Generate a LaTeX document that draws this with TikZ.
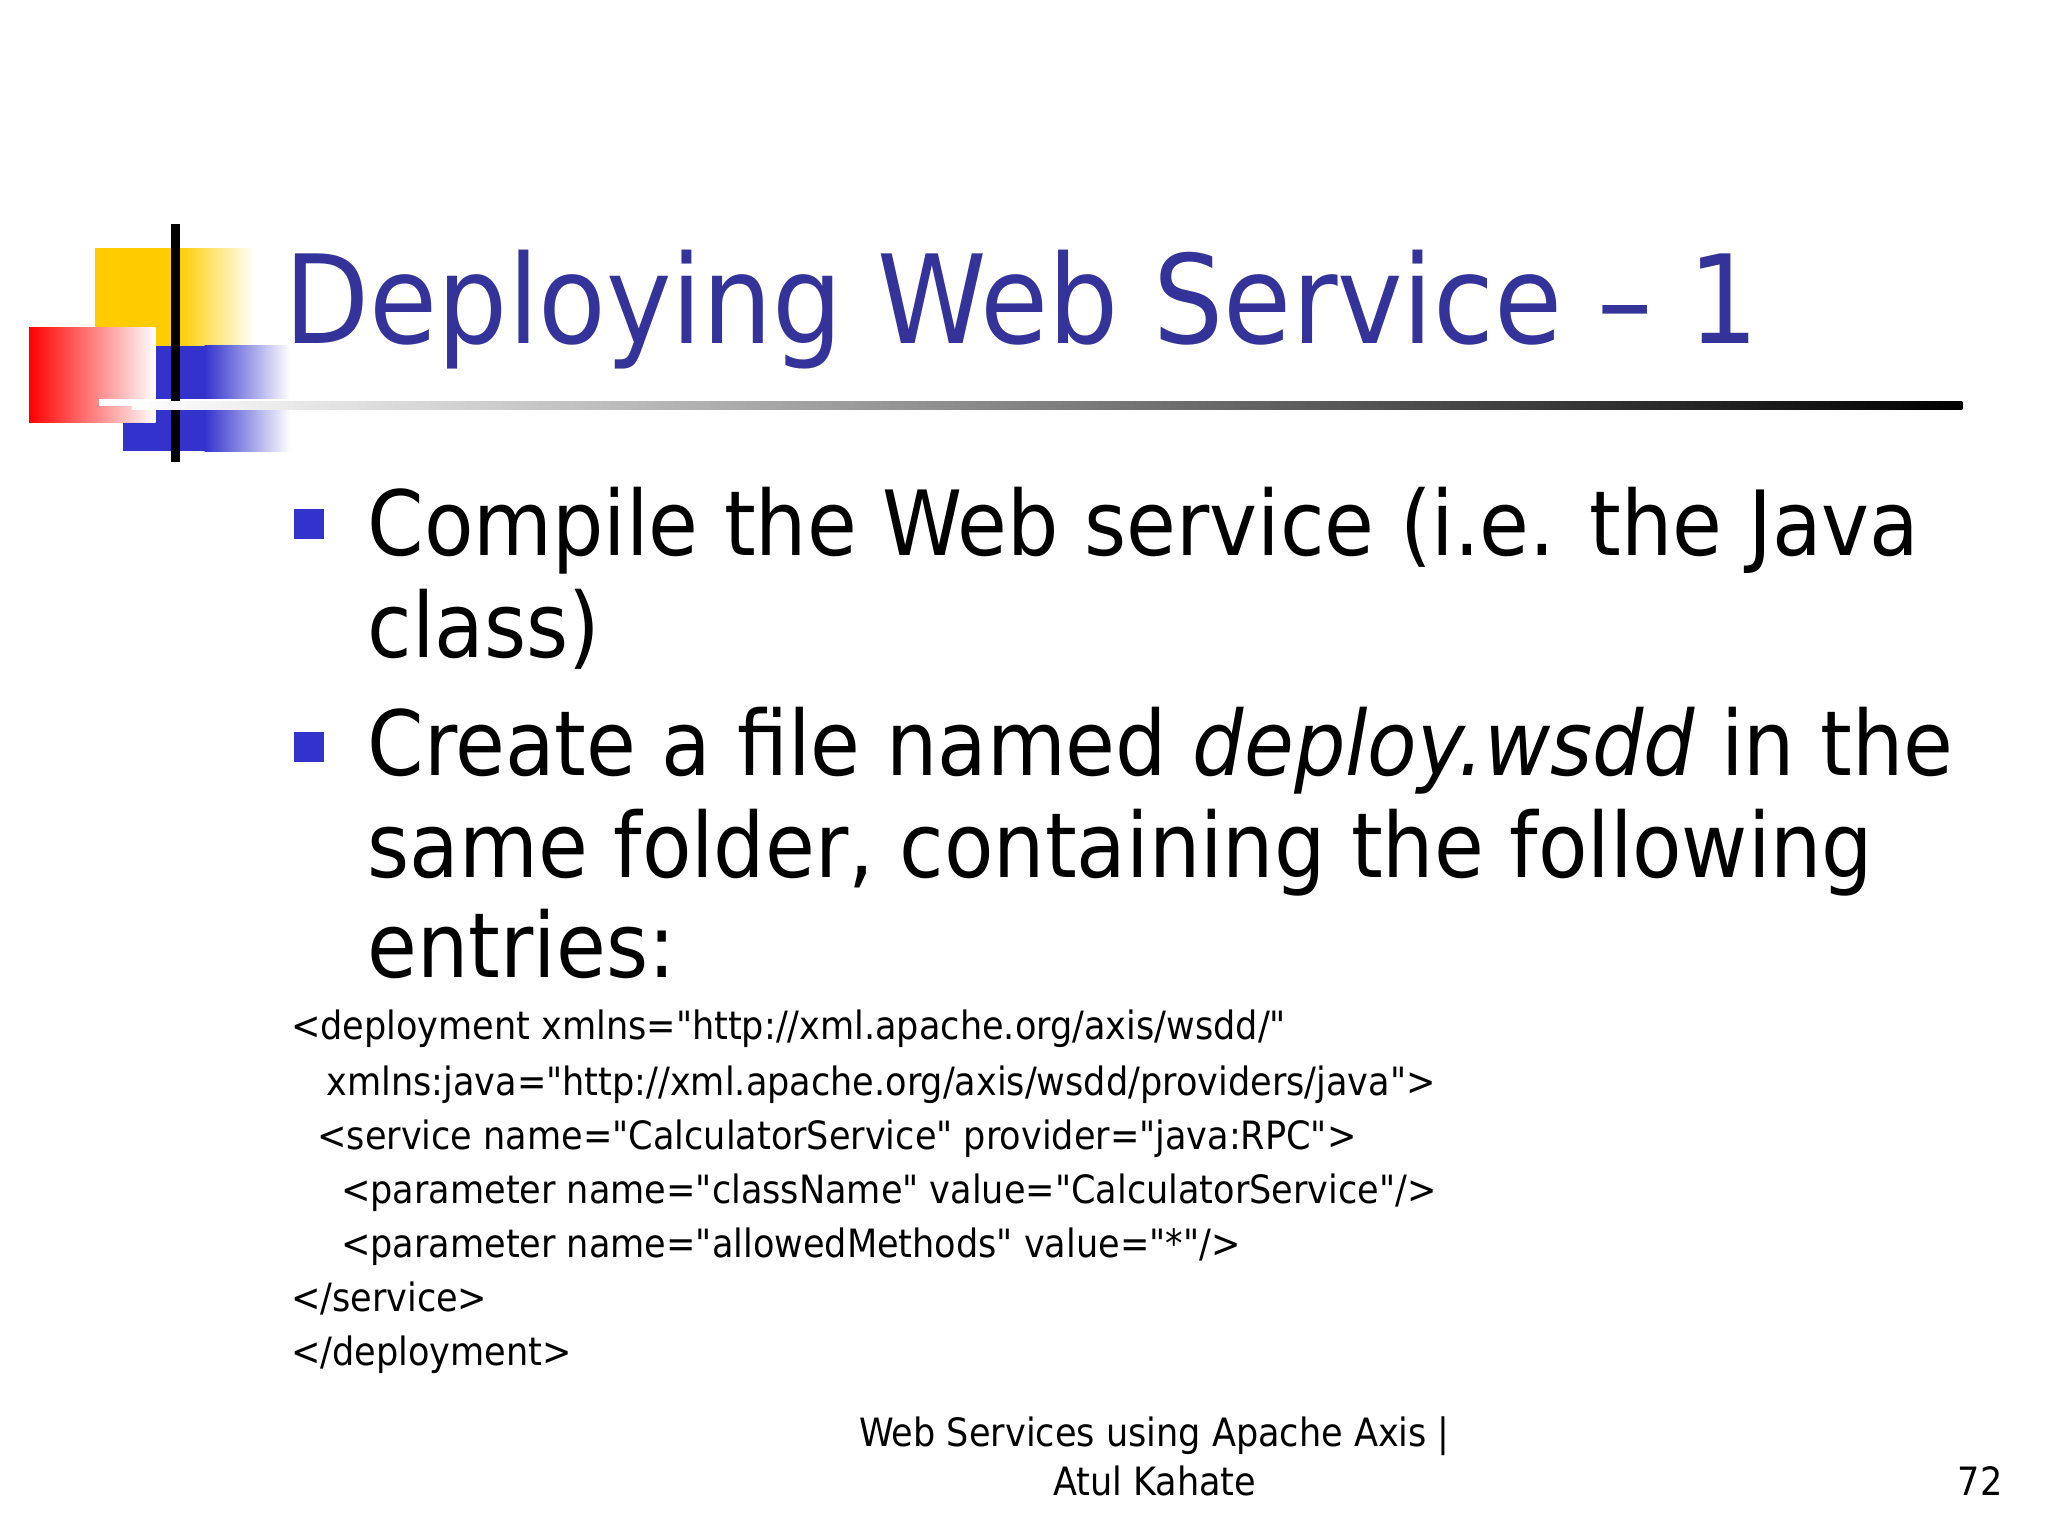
\documentclass[tikz,border=0pt]{standalone}
\usepackage{fontspec}
\setmainfont{DejaVu Sans Condensed}[Ligatures=TeXOff]
\usetikzlibrary{positioning}
\definecolor{titleBlue}{RGB}{51,51,153}
\definecolor{bulletBlue}{RGB}{51,51,204}
\definecolor{logoYellow}{RGB}{255,204,0}
\definecolor{logoRed}{RGB}{255,0,0}
\begin{document}
\begin{tikzpicture}[x=0.0132cm, y=-0.0132cm,
    title/.style={anchor=base west, inner sep=0pt, text=titleBlue, font=\fontsize{35}{40}\selectfont},
    bullettext/.style={anchor=base west, inner sep=0pt, font=\fontsize{25.6}{30}\selectfont},
    code/.style={anchor=base west, inner sep=0pt, font=\fontsize{11.1}{13}\selectfont},
    footer/.style={inner sep=0pt, font=\fontsize{11.1}{13}\selectfont, align=center},
    bulletsq/.style={fill=bulletBlue, minimum size=0.3cm, inner sep=0pt}
]
\useasboundingbox (0,0) rectangle (1552,1164);
% Logo
\fill[logoYellow] (72,188) rectangle (135,262);
\shade[left color=logoYellow, right color=white] (135,188) rectangle (193,262);
\fill[bulletBlue] (93,262) rectangle (155,342);
\shade[left color=bulletBlue, right color=white] (155,262) rectangle (220,342);
\shade[left color=logoRed, right color=white] (22,248) rectangle (118,320);
\draw[white, line width=2pt] (75,305) -- (220,305);
\draw[black, line width=2.5pt] (133,170) -- (133,350);
% Rule
\shade[left color=white, right color=black] (100,304) rectangle (1487,310);
% Title
\node[title] (ttl) at (215,260) {Deploying Web Service – 1};
% Bullets
\node[bulletsq] (b1) at (234,397) {};
\node[bullettext] (t1a) at (278,421) {Compile the Web service (i.e. the Java};
\node[bullettext] (t1b) at (278,498) {class)};
\node[bulletsq] (b2) at (234,566) {};
\node[bullettext] (t2a) at (278,588) {Create a file named \textit{deploy.wsdd} in the};
\node[bullettext] (t2b) at (278,665) {same folder, containing the following};
\node[bullettext] (t2c) at (278,741) {entries:};
% Code
\node[code] (c1) at (220,788) {<deployment xmlns="http://xml.apache.org/axis/wsdd/"};
\node[code] (c2) at (247,830) {xmlns:java="http://xml.apache.org/axis/wsdd/providers/java">};
\node[code] (c3) at (240,871) {<service name="CalculatorService" provider="java:RPC">};
\node[code] (c4) at (258,912) {<parameter name="className" value="CalculatorService"/>};
\node[code] (c5) at (258,953) {<parameter name="allowedMethods" value="*"/>};
\node[code] (c6) at (220,994) {</service>};
\node[code] (c7) at (220,1035) {</deployment>};
% Footer
\node[footer, anchor=base] (f1) at (875,1096) {Web Services using Apache Axis |};
\node[footer, anchor=base] (f2) at (875,1133) {Atul Kahate};
\node[footer, anchor=base east] (pg) at (1518,1133) {72};
\end{tikzpicture}
\end{document}
